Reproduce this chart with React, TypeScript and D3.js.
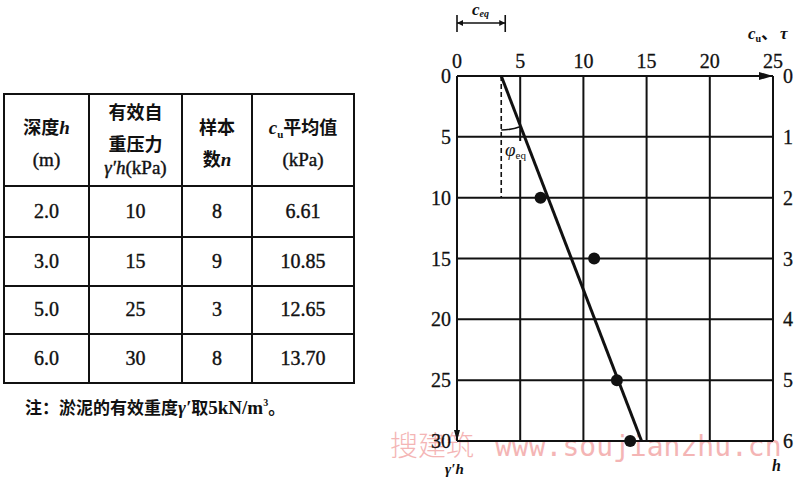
import React from "react";
import * as d3 from "d3";

const depthH = ["2.0", "3.0", "5.0", "6.0"];
const effStress = [10, 15, 25, 30];
const sampleN = [8, 9, 3, 8];
const cuMean = ["6.61", "10.85", "12.65", "13.70"];
const xTicks = [0, 5, 10, 15, 20, 25];
const yTicks = [0, 5, 10, 15, 20, 25, 30];
const hTicks = [0, 1, 2, 3, 4, 5, 6];
const ceq = 3.5;
const fitAtBottom = 14.6;

const NUM = "'Liberation Serif', 'DejaVu Serif', serif";
const CJK = "'Noto Sans CJK SC', sans-serif";

export default function App() {
  const x = d3.scaleLinear().domain([0, 25]).range([457, 773]);
  const y = d3.scaleLinear().domain([0, 30]).range([76, 441]);
  const hs = d3.scaleLinear().domain([0, 6]).range([76, 441]);

  // table geometry
  const colX = [4, 89, 182, 252, 354];
  const rowY = [94, 186, 237, 286, 334, 383];
  const colC = colX.slice(0, 4).map((v, i) => (v + colX[i + 1]) / 2);

  const fitLine = d3.line<[number, number]>().x(d => x(d[0])).y(d => y(d[1]));
  const fitData: [number, number][] = [[ceq, 0], [fitAtBottom, 30]];

  // phi arc
  const cx = x(ceq), cy = y(0);
  const r = 54;
  const ang = Math.atan2(x(fitAtBottom) - x(ceq), y(30) - y(0));
  const arcPath = `M${cx},${cy + r} A${r},${r} 0 0 0 ${cx + r * Math.sin(ang)},${cy + r * Math.cos(ang)}`;

  const rows = effStress.map((_, i) => i);

  return (
    <svg width={800} height={477} style={{ position: "absolute", left: 0, top: 0, background: "#fff" }}>
      {/* watermark */}
      <g fill="#f3a9a9" opacity={0.85}>
        <text x={390} y={456} fontFamily={CJK} fontSize={28} fontWeight={300}>搜建筑</text>
        <text x={495} y={456} fontFamily="'DejaVu Sans Mono', monospace" fontSize={28}>www.soujianzhu.cn</text>
      </g>

      {/* table */}
      <g stroke="#111" strokeWidth={2} fill="none">
        <rect x={colX[0]} y={rowY[0]} width={colX[4] - colX[0]} height={rowY[5] - rowY[0]} />
        {colX.slice(1, 4).map(v => <line key={"c" + v} x1={v} x2={v} y1={rowY[0]} y2={rowY[5]} />)}
        {rowY.slice(1, 5).map(v => <line key={"r" + v} x1={colX[0]} x2={colX[4]} y1={v} y2={v} />)}
      </g>
      <g fill="#111" textAnchor="middle" fontSize={18}>
        <text x={colC[0]} y={134} fontFamily={CJK} fontWeight={700}>深度<tspan fontFamily={NUM} fontStyle="italic" fontSize={19}>h</tspan></text>
        <text x={colC[0]} y={166} fontFamily={NUM} fontSize={19} stroke="#111" strokeWidth={0.4}>(m)</text>
        <text x={colC[1]} y={119} fontFamily={CJK} fontWeight={700}>有效自</text>
        <text x={colC[1]} y={151} fontFamily={CJK} fontWeight={700}>重压力</text>
        <text x={colC[1]} y={174} fontFamily={NUM} fontSize={19} stroke="#111" strokeWidth={0.4}><tspan fontStyle="italic">γ′h</tspan>(kPa)</text>
        <text x={colC[2]} y={134} fontFamily={CJK} fontWeight={700}>样本</text>
        <text x={colC[2]} y={166} fontFamily={CJK} fontWeight={700}>数<tspan fontFamily={NUM} fontStyle="italic" fontSize={19}>n</tspan></text>
        <text x={colC[3]} y={134} fontFamily={CJK} fontWeight={700}><tspan fontFamily={NUM} fontStyle="italic" fontSize={19}>c</tspan><tspan fontFamily={NUM} fontSize={11} dy={4}>u</tspan><tspan dy={-4}>平均值</tspan></text>
        <text x={colC[3]} y={166} fontFamily={NUM} fontSize={19} stroke="#111" strokeWidth={0.4}>(kPa)</text>
        {rows.map(i => {
          const cyR = (rowY[i + 1] + rowY[i + 2]) / 2 + 6;
          return (
            <g key={i} fontFamily={NUM} fontSize={20} stroke="#111" strokeWidth={0.4}>
              <text x={colC[0]} y={cyR}>{depthH[i]}</text>
              <text x={colC[1]} y={cyR}>{effStress[i]}</text>
              <text x={colC[2]} y={cyR}>{sampleN[i]}</text>
              <text x={colC[3]} y={cyR}>{cuMean[i]}</text>
            </g>
          );
        })}
      </g>
      <text x={25} y={414} fill="#111" fontFamily={CJK} fontWeight={700} fontSize={17}>
        注：淤泥的有效重度<tspan fontFamily={NUM} fontStyle="italic" fontSize={19}>γ′</tspan>取<tspan fontFamily={NUM} fontSize={19}>5kN/m</tspan><tspan fontFamily={NUM} fontSize={10} dy={-8}>3</tspan><tspan dy={8}>。</tspan>
      </text>

      {/* chart grid */}
      <g stroke="#111" strokeWidth={2}>
        {xTicks.slice(1, 5).map(v => <line key={"gx" + v} x1={x(v)} x2={x(v)} y1={y(0)} y2={y(30)} />)}
        {yTicks.slice(1, 6).map(v => <line key={"gy" + v} x1={x(0)} x2={x(25)} y1={y(v)} y2={y(v)} />)}
        <line x1={x(0)} x2={x(25)} y1={y(0)} y2={y(0)} />
        <line x1={x(0)} x2={x(25)} y1={y(30)} y2={y(30)} />
        <line x1={x(0)} x2={x(0)} y1={y(0)} y2={y(30)} />
        <line x1={x(25)} x2={x(25)} y1={y(0)} y2={y(30)} />
      </g>
      {/* arrows */}
      <path d={`M${x(25) - 14},${y(0) - 4} L${x(25)},${y(0)} L${x(25) - 14},${y(0) + 4} Z`} fill="#111" />
      <path d={`M${x(0) - 3},${y(30) - 11} L${x(0)},${y(30)} L${x(0) + 3},${y(30) - 11} Z`} fill="#111" />

      {/* dashed c_eq vertical */}
      <line x1={x(ceq)} x2={x(ceq)} y1={y(0)} y2={y(10)} stroke="#111" strokeWidth={1.6} strokeDasharray="5,3" />
      {/* phi label background and arc */}
      <rect x={505} y={141} width={25} height={19} fill="#fff" />
      <path d={arcPath} fill="none" stroke="#111" strokeWidth={1.6} />
      <text x={505} y={156} fontFamily={NUM} fontStyle="italic" fontSize={19} fill="#111">φ<tspan fontSize={11} fontStyle="normal" dy={3}>eq</tspan></text>

      {/* fitted line */}
      <path d={fitLine(fitData) || ""} stroke="#111" strokeWidth={3} fill="none" />
      {/* points */}
      {effStress.map((v, i) => (
        <circle key={"p" + i} cx={x(+cuMean[i])} cy={y(v)} r={6} fill="#111" />
      ))}

      {/* tick labels */}
      <g fontFamily={NUM} fontSize={20} fill="#111" stroke="#111" strokeWidth={0.3}>
        {xTicks.map(v => <text key={"tx" + v} x={x(v)} y={68} textAnchor="middle">{v}</text>)}
        {yTicks.map(v => <text key={"ty" + v} x={451} y={y(v) + 7} textAnchor="end">{v}</text>)}
        {hTicks.map(v => <text key={"th" + v} x={783} y={hs(v) + 7}>{v}</text>)}
      </g>

      {/* c_eq dimension */}
      <g stroke="#111" strokeWidth={1.6}>
        <line x1={x(0)} x2={x(ceq) + 4} y1={23} y2={23} />
        <line x1={x(0)} x2={x(0)} y1={15} y2={32} />
        <line x1={x(ceq) + 4} x2={x(ceq) + 4} y1={15} y2={32} />
      </g>
      <path d={`M${x(0)},23 l6,-3 v6 Z M${x(ceq) + 4},23 l-6,-3 v6 Z`} fill="#111" />
      <text x={472} y={15} fontFamily={NUM} fontStyle="italic" fontWeight={700} fontSize={17} fill="#111">c<tspan fontSize={10} dy={2}>eq</tspan></text>

      {/* axis names */}
      <text x={748} y={39} fontFamily={NUM} fontStyle="italic" fontWeight={700} fontSize={17} fill="#111">c<tspan fontSize={10} fontStyle="normal" dy={3}>u</tspan><tspan fontFamily={CJK} fontStyle="normal" dy={-3}>、</tspan><tspan dx={2}>τ</tspan></text>
      <text x={445} y={474} fontFamily={NUM} fontStyle="italic" fontWeight={700} fontSize={15} fill="#111">γ′h</text>
      <text x={772} y={471} fontFamily={NUM} fontStyle="italic" fontWeight={700} fontSize={16} fill="#111">h</text>
    </svg>
  );
}
